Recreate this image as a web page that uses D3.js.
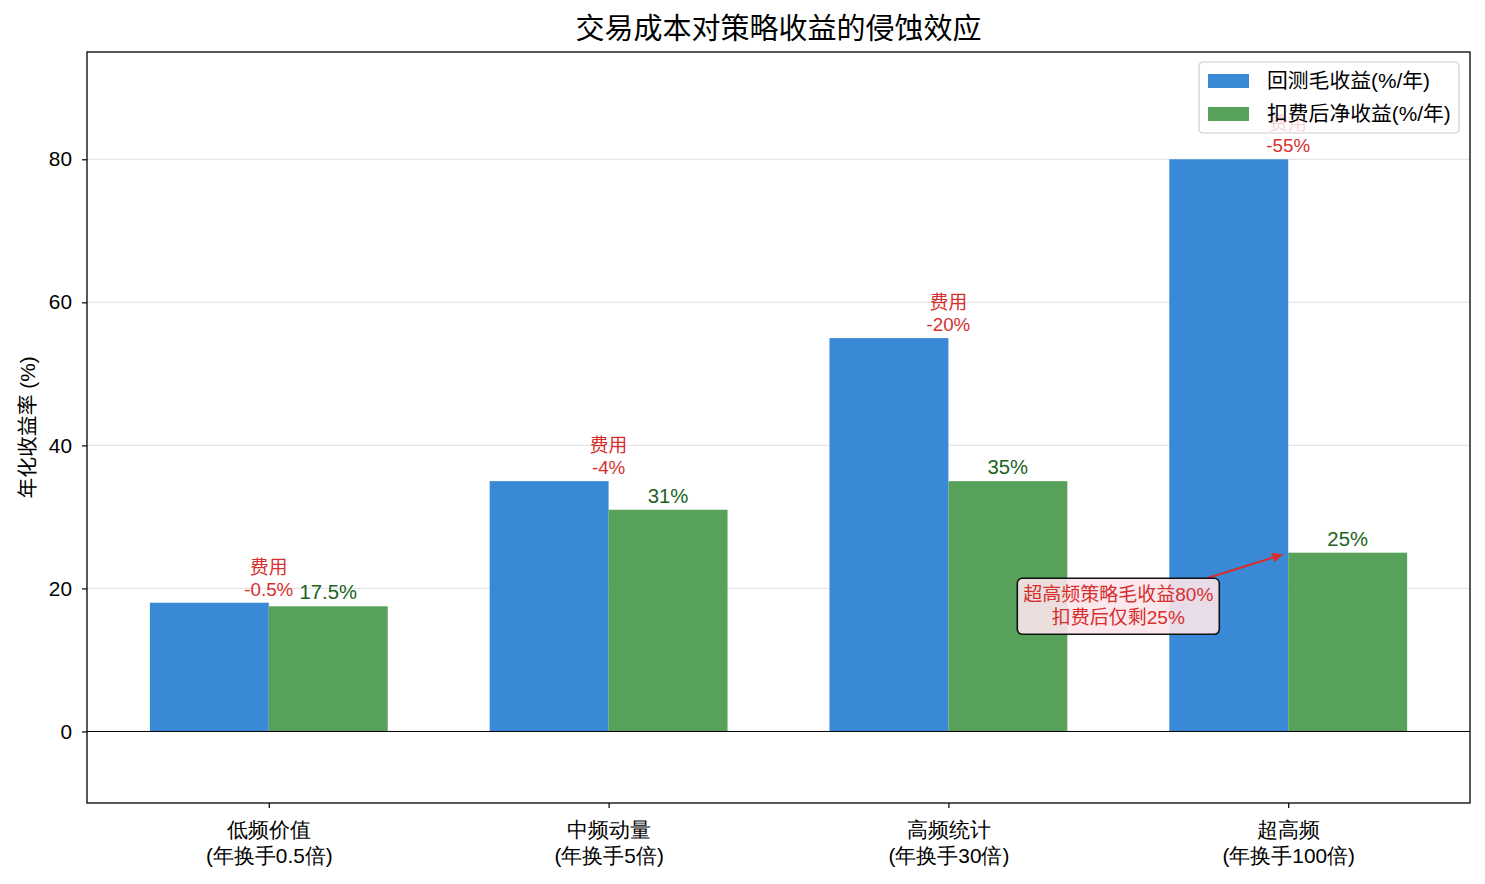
<!DOCTYPE html>
<html lang="zh">
<head>
<meta charset="UTF-8" />
<title>交易成本对策略收益的侵蚀效应</title>
<script src="https://d3js.org/d3.v7.min.js"></script>
<style>
    body { margin: 0; background: #fff; }
    svg { font-family: 'Liberation Sans', 'Noto Sans CJK SC', sans-serif; }
    .axis path { display: none; }
    .axis line { stroke: #000; stroke-width: 1.2; }
    .axis text { font-size: 20.8px; fill: #000; }
</style>
</head>
<body>
<script>
    // data
    const categories = ['低频价值', '中频动量', '高频统计', '超高频'];
    const turnover = ['(年换手0.5倍)', '(年换手5倍)', '(年换手30倍)', '(年换手100倍)'];
    const grossReturn = [18, 35, 55, 80];
    const netReturn = [17.5, 31, 35, 25];
    const seriesNames = ['回测毛收益(%/年)', '扣费后净收益(%/年)'];
    const yTicks = [0, 20, 40, 60, 80];

    const W = 1485, H = 884;
    const plot = { left: 87, right: 1470, top: 52, bottom: 803 };
    const barW = 0.35;
    const blue = '#3a89d7', green = '#57a15b', red = '#d62f2f', darkGreen = '#1b6320';

    const svg = d3.select('body').append('svg')
        .attr('width', W).attr('height', H);

    const x = d3.scaleLinear().domain([-0.535, 3.535]).range([plot.left, plot.right]);
    const y = d3.scaleLinear().domain([-10, 95]).range([plot.bottom, plot.top]);
    const px = v => x(v) - x(0); // width in px of data units

    // title
    svg.append('text')
        .attr('x', (plot.left + plot.right) / 2).attr('y', 39)
        .attr('text-anchor', 'middle')
        .style('font-size', '29px')
        .text('交易成本对策略收益的侵蚀效应');

    // grid
    svg.append('g').selectAll('line')
        .data(yTicks.filter(d => d !== 0))
        .enter().append('line')
        .attr('x1', plot.left).attr('x2', plot.right)
        .attr('y1', d => y(d)).attr('y2', d => y(d))
        .attr('stroke', '#e6e6e6').attr('stroke-width', 1.2);

    // bars
    const idx = d3.range(categories.length);
    svg.append('g').selectAll('rect')
        .data(idx).enter().append('rect')
        .attr('x', i => x(i - barW))
        .attr('width', px(barW))
        .attr('y', i => y(grossReturn[i]))
        .attr('height', i => y(0) - y(grossReturn[i]))
        .attr('fill', blue);

    svg.append('g').selectAll('rect')
        .data(idx).enter().append('rect')
        .attr('x', i => x(i))
        .attr('width', px(barW))
        .attr('y', i => y(netReturn[i]))
        .attr('height', i => y(0) - y(netReturn[i]))
        .attr('fill', green);

    // zero line
    svg.append('line')
        .attr('x1', plot.left).attr('x2', plot.right)
        .attr('y1', y(0)).attr('y2', y(0))
        .attr('stroke', '#000').attr('stroke-width', 1);

    // fee labels, centred on the category position
    const fee = svg.append('g').selectAll('text')
        .data(idx).enter().append('text')
        .attr('text-anchor', 'middle')
        .attr('fill', red)
        .style('font-size', '18.75px');
    fee.append('tspan')
        .attr('x', i => x(i))
        .attr('y', i => y(grossReturn[i]) - 29)
        .text('费用');
    fee.append('tspan')
        .attr('x', i => x(i))
        .attr('y', i => y(grossReturn[i]) - 7)
        .text(i => '-' + d3.format('~g')(+(grossReturn[i] - netReturn[i]).toFixed(2)) + '%');

    // net labels
    svg.append('g').selectAll('text')
        .data(idx).enter().append('text')
        .attr('x', i => x(i + barW / 2))
        .attr('y', i => y(netReturn[i]) - 7)
        .attr('text-anchor', 'middle')
        .attr('fill', darkGreen)
        .style('font-size', '20.3px')
        .text(i => netReturn[i] + '%');

    // annotation
    const ann = { tx: 2.5, ty: 17.5, ax: 3, ay: 25 };
    const bx = x(ann.tx), by = y(ann.ty), hw = 101, hh = 28;
    const ex = x(ann.ax), ey = y(ann.ay);
    const dx = ex - bx, dy = ey - by;
    const t = Math.min(hw / Math.abs(dx), hh / Math.abs(dy));
    const sx = bx + dx * t, sy = by + dy * t;
    const len = Math.hypot(ex - sx, ey - sy);
    const ux = (ex - sx) / len, uy = (ey - sy) / len;
    const tipX = ex - ux * 5, tipY = ey - uy * 5;
    svg.append('line')
        .attr('x1', sx).attr('y1', sy)
        .attr('x2', tipX - ux * 8).attr('y2', tipY - uy * 8)
        .attr('stroke', red).attr('stroke-width', 2.2);
    svg.append('path')
        .attr('d', `M${tipX},${tipY} L${tipX - ux * 11 - uy * 5},${tipY - uy * 11 + ux * 5} L${tipX - ux * 11 + uy * 5},${tipY - uy * 11 - ux * 5} Z`)
        .attr('fill', red);

    svg.append('rect')
        .attr('x', bx - hw).attr('y', by - hh)
        .attr('width', hw * 2).attr('height', hh * 2)
        .attr('rx', 5)
        .attr('fill', '#fbe6ea').attr('fill-opacity', 0.9)
        .attr('stroke', '#111').attr('stroke-width', 1.6);
    const annText = svg.append('text')
        .attr('text-anchor', 'middle')
        .attr('fill', red)
        .style('font-size', '19px');
    annText.append('tspan').attr('x', bx).attr('y', by - 5).text('超高频策略毛收益80%');
    annText.append('tspan').attr('x', bx).attr('y', by + 18).text('扣费后仅剩25%');

    // axes
    svg.append('g').attr('class', 'axis')
        .attr('transform', `translate(${plot.left},0)`)
        .call(d3.axisLeft(y).tickValues(yTicks).tickSize(5).tickPadding(10));

    const xAxis = svg.append('g').attr('class', 'axis')
        .attr('transform', `translate(0,${plot.bottom})`)
        .call(d3.axisBottom(x).tickValues(idx).tickSize(5).tickFormat(''));
    const xl = xAxis.selectAll('.tick').append('text')
        .attr('text-anchor', 'middle');
    xl.append('tspan').attr('x', 0).attr('y', 34).text(i => categories[i]);
    xl.append('tspan').attr('x', 0).attr('y', 60).text(i => turnover[i]);

    // frame
    svg.append('rect')
        .attr('x', plot.left).attr('y', plot.top)
        .attr('width', plot.right - plot.left).attr('height', plot.bottom - plot.top)
        .attr('fill', 'none').attr('stroke', '#000').attr('stroke-width', 1.3);

    // y label
    svg.append('text')
        .attr('transform', `translate(35,${(plot.top + plot.bottom) / 2}) rotate(-90)`)
        .attr('text-anchor', 'middle')
        .style('font-size', '20.8px')
        .text('年化收益率 (%)');

    // legend
    const lg = svg.append('g').attr('transform', 'translate(1199,62)');
    lg.append('rect')
        .attr('width', 260).attr('height', 71).attr('rx', 4)
        .attr('fill', '#fff').attr('fill-opacity', 0.8)
        .attr('stroke', '#cccccc').attr('stroke-width', 1.2);
    const items = lg.selectAll('g.item')
        .data(seriesNames).enter().append('g')
        .attr('class', 'item')
        .attr('transform', (d, i) => `translate(0,${19 + i * 33})`);
    items.append('rect')
        .attr('x', 9).attr('y', -7).attr('width', 41).attr('height', 14)
        .attr('fill', (d, i) => i === 0 ? blue : green);
    items.append('text')
        .attr('x', 68).attr('y', 7)
        .style('font-size', '20.8px')
        .text(d => d);
</script>
</body>
</html>
